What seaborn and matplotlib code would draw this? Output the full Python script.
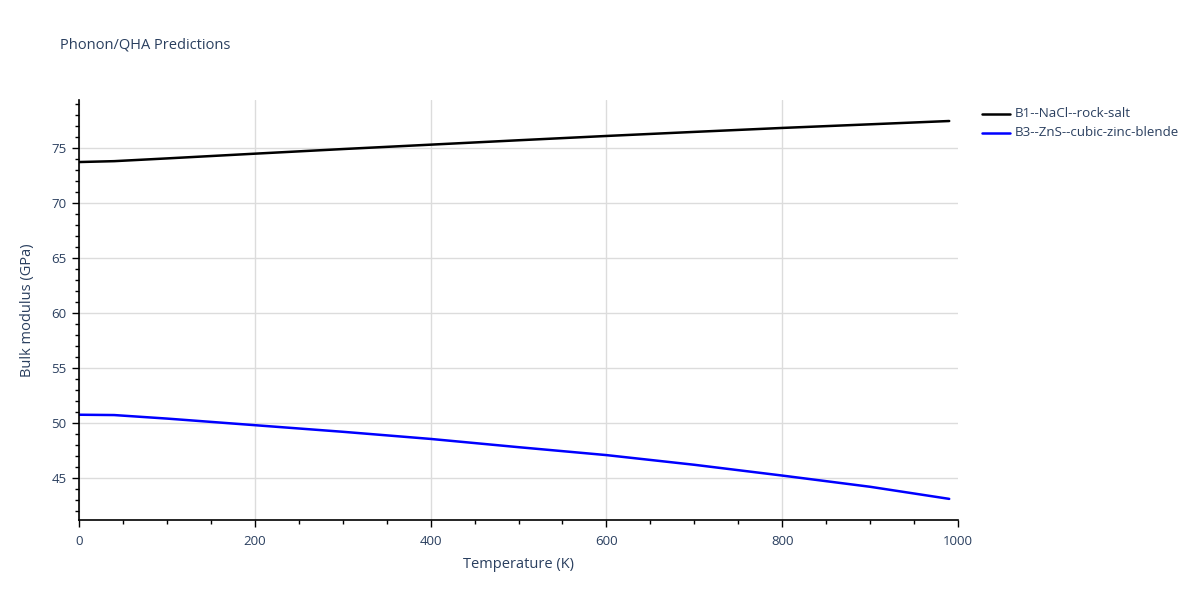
import numpy as np
import pandas as pd
import seaborn as sns
import matplotlib.pyplot as plt
from matplotlib.ticker import MultipleLocator

temps = [0, 40, 100, 200, 300, 400, 500, 600, 700, 800, 900, 990]
b1_nacl = [73.72, 73.8, 74.05, 74.48, 74.9, 75.3, 75.7, 76.09, 76.46, 76.82, 77.15, 77.45]
b3_zns = [50.75, 50.72, 50.4, 49.8, 49.2, 48.55, 47.8, 47.08, 46.2, 45.22, 44.2, 43.1]
names = ['B1--NaCl--rock-salt', 'B3--ZnS--cubic-zinc-blende']
colors = ['black', 'blue']

df = pd.concat([
    pd.DataFrame({'T': temps, 'B': b1_nacl, 'phase': names[0]}),
    pd.DataFrame({'T': temps, 'B': b3_zns, 'phase': names[1]}),
])

sns.set_style('white')
plt.rcParams['font.family'] = ['Open Sans', 'DejaVu Sans']
txt = '#2a3f5f'

fig = plt.figure(figsize=(12, 6), dpi=100)
ax = fig.add_axes([79/1200, 80/600, (958-79)/1200, 420/600])

sns.lineplot(data=df, x='T', y='B', hue='phase', palette=colors,
             linewidth=1.8, ax=ax, legend=False)

ax.set_xlim(0, 1000)
ax.set_ylim(41.18, 79.36)
ax.xaxis.set_major_locator(MultipleLocator(200))
ax.xaxis.set_minor_locator(MultipleLocator(50))
ax.yaxis.set_major_locator(MultipleLocator(5))
ax.yaxis.set_minor_locator(MultipleLocator(1))
ax.grid(True, which='major', color='#dcdcdc', linewidth=1)
ax.set_axisbelow(True)

for s in ['top', 'right']:
    ax.spines[s].set_visible(False)
for s in ['left', 'bottom']:
    ax.spines[s].set_color('black')
    ax.spines[s].set_linewidth(1.2)

ax.tick_params(which='both', bottom=True, left=True, top=False, right=False)
ax.tick_params(which='major', direction='out', length=5, width=1, color='black',
               labelsize=9.5, labelcolor=txt, pad=4)
ax.tick_params(which='minor', direction='out', length=3, width=1, color='black')
ax.tick_params(axis='x', which='major', pad=6)

# no grid line on the x=1000 edge, like the original
for t in ax.xaxis.get_major_ticks():
    if abs(t.get_loc() - 1000) < 1e-6:
        t.gridline.set_visible(False)

ax.set_xlabel('Temperature (K)', fontsize=10.5, color=txt, labelpad=6)
ax.set_ylabel('Bulk modulus (GPa)', fontsize=10.5, color=txt, labelpad=12)

fig.text(60/1200, 1 - 45/600, 'Phonon/QHA Predictions', fontsize=10.5,
         color=txt, va='center', ha='left')

for i, (n, c) in enumerate(zip(names, colors)):
    y = 1 - (114 + 19*i)/600
    fig.add_artist(plt.Line2D([982/1200, 1010/1200], [y, y], color=c, linewidth=1.8))
    fig.text(1015/1200, y, n, fontsize=9.6, color=txt, va='center', ha='left')

fig.savefig('out.png', dpi=100)
